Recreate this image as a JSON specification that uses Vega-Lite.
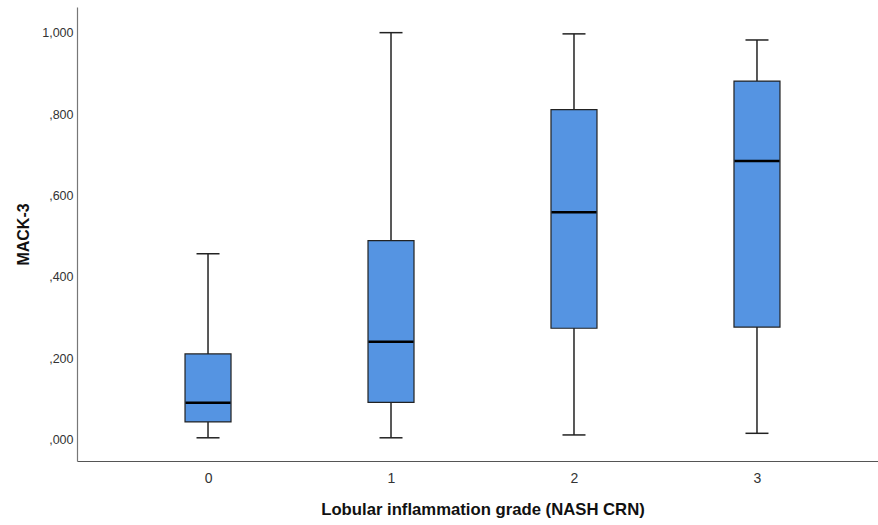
{
  "$schema": "https://vega.github.io/schema/vega-lite/v6.json",
  "autosize": {"type": "none"},
  "width": 811,
  "height": 454,
  "padding": {"left": 77, "top": 7, "right": 0, "bottom": 64},
  "background": "white",
  "config": {
    "view": {"stroke": null},
    "font": "Liberation Sans"
  },
  "data": {
    "values": [
      {"grade": "0", "lower": 0.005, "q1": 0.044, "median": 0.091, "q3": 0.211, "upper": 0.457},
      {"grade": "1", "lower": 0.005, "q1": 0.092, "median": 0.241, "q3": 0.489, "upper": 1.0},
      {"grade": "2", "lower": 0.012, "q1": 0.274, "median": 0.559, "q3": 0.811, "upper": 0.997},
      {"grade": "3", "lower": 0.016, "q1": 0.277, "median": 0.685, "q3": 0.881, "upper": 0.982}
    ]
  },
  "encoding": {
    "x": {
      "field": "grade",
      "type": "ordinal",
      "scale": {"type": "point", "padding": 0.716},
      "axis": {
        "title": "Lobular inflammation grade (NASH CRN)",
        "titleFont": "Liberation Sans",
        "titleFontSize": 16.7,
        "titleFontWeight": "bold",
        "titleColor": "#111",
        "titlePadding": 16,
        "labelAngle": 0,
        "labelFontSize": 14,
        "labelColor": "#333",
        "labelPadding": 10,
        "ticks": false,
        "domainColor": "#555",
        "domainWidth": 1.2
      }
    }
  },
  "layer": [
    {
      "mark": {"type": "rule", "color": "#222", "strokeWidth": 1.5},
      "encoding": {
        "y": {
          "field": "lower",
          "type": "quantitative",
          "scale": {"domain": [-0.052, 1.063], "nice": false, "zero": false},
          "axis": {
            "title": "MACK-3",
            "titleFont": "Liberation Sans",
            "titleFontSize": 16,
            "titleFontWeight": "bold",
            "titleColor": "#111",
            "titlePadding": 10,
            "values": [0, 0.2, 0.4, 0.6, 0.8, 1.0],
            "labelExpr": "datum.value < 1 ? replace(slice(format(datum.value, '.3f'), 1), '.', ',') : replace(format(datum.value, '.3f'), '.', ',')",
            "labelFontSize": 12.5,
            "labelColor": "#333",
            "labelPadding": 4,
            "ticks": false,
            "grid": false,
            "domainColor": "#777",
            "domainWidth": 1.2
          }
        },
        "y2": {"field": "upper"}
      }
    },
    {
      "mark": {"type": "bar", "width": 46, "fill": "#5594E2", "stroke": "#222", "strokeWidth": 1.2},
      "encoding": {
        "y": {"field": "q1", "type": "quantitative"},
        "y2": {"field": "q3"}
      }
    },
    {
      "mark": {"type": "tick", "color": "#000", "size": 45, "thickness": 2.5, "opacity": 1},
      "encoding": {
        "y": {"field": "median", "type": "quantitative"}
      }
    },
    {
      "mark": {"type": "tick", "color": "#222", "size": 23, "thickness": 1.5, "opacity": 1},
      "encoding": {
        "y": {"field": "lower", "type": "quantitative"}
      }
    },
    {
      "mark": {"type": "tick", "color": "#222", "size": 23, "thickness": 1.5, "opacity": 1},
      "encoding": {
        "y": {"field": "upper", "type": "quantitative"}
      }
    }
  ]
}
